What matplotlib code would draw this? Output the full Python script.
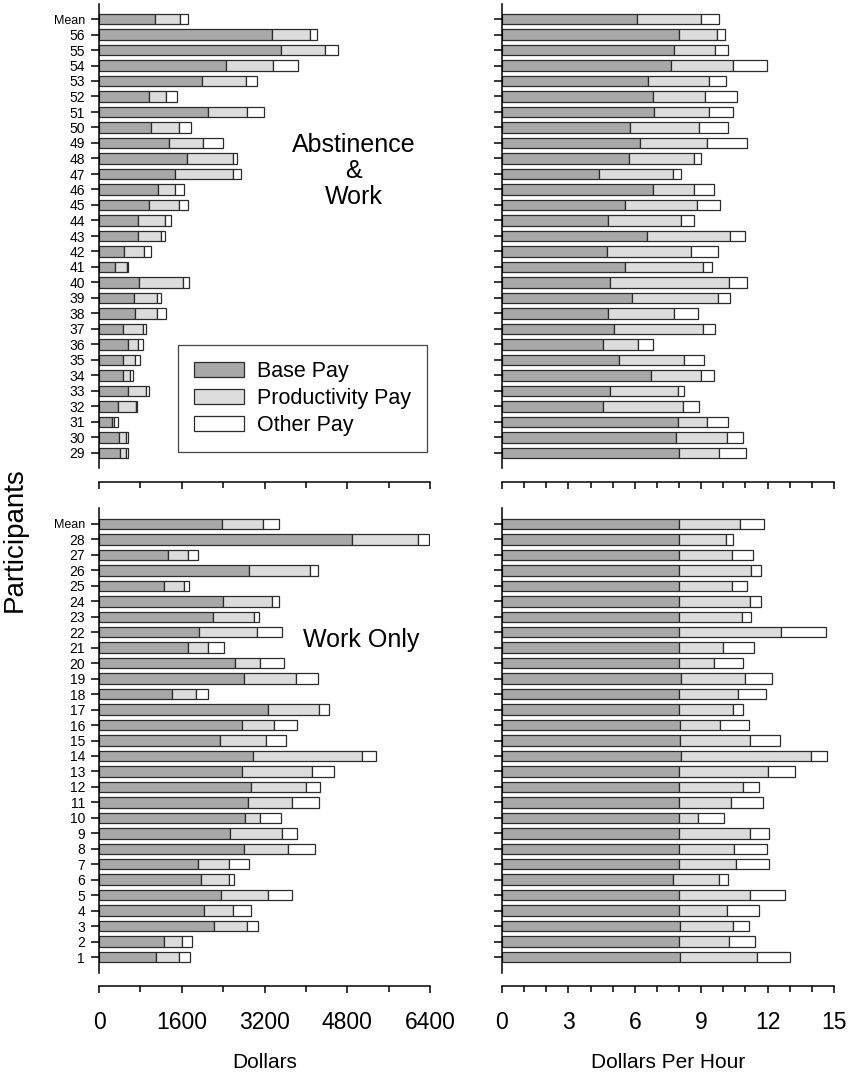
import numpy as np
import matplotlib
matplotlib.use("Agg")
import matplotlib.pyplot as plt
from matplotlib.ticker import MultipleLocator
from matplotlib.patches import Patch

plt.rcParams['font.family'] = ['Liberation Sans', 'DejaVu Sans']
narrow = ['Liberation Sans Narrow', 'Liberation Sans', 'DejaVu Sans']

# participant labels, bottom row first
abst_labels = [str(i) for i in range(29, 57)] + ['Mean']
work_labels = [str(i) for i in range(1, 29)] + ['Mean']

# Abstinence & Work: total dollars (base, productivity, other)
abst_base = [410, 385, 250, 360, 555, 455, 455, 555, 455, 690, 680, 765, 300, 475,
             750, 750, 960, 1150, 1470, 1700, 1350, 1000, 2110, 960, 1995, 2460,
             3510, 3337, 1080]
abst_prod = [110, 130, 45, 355, 355, 150, 250, 200, 395, 430, 450, 855, 240, 400,
             445, 535, 585, 320, 1115, 885, 655, 550, 745, 335, 840, 905,
             860, 739, 489]
abst_other = [50, 45, 65, 25, 50, 60, 95, 100, 60, 175, 70, 120, 15, 140,
              90, 110, 180, 170, 155, 85, 385, 225, 330, 205, 220, 485,
              250, 142, 148]

# Abstinence & Work: dollars per hour
abst_base_hr = [8.00, 7.88, 7.94, 4.58, 4.86, 6.73, 5.27, 4.58, 5.05, 4.80, 5.87,
                4.88, 5.57, 4.73, 6.54, 4.80, 5.57, 6.84, 4.40, 5.75, 6.25, 5.80,
                6.88, 6.84, 6.60, 7.65, 7.77, 8.00, 6.08]
abst_prod_hr = [1.79, 2.30, 1.34, 3.58, 3.08, 2.25, 2.95, 1.56, 4.05, 2.97, 3.87,
                5.38, 3.53, 3.79, 3.78, 3.30, 3.24, 1.85, 3.31, 2.94, 3.03, 3.09,
                2.46, 2.32, 2.74, 2.80, 1.85, 1.73, 2.90]
abst_other_hr = [1.23, 0.72, 0.92, 0.74, 0.30, 0.58, 0.92, 0.68, 0.52, 1.10, 0.56,
                 0.81, 0.39, 1.22, 0.66, 0.59, 1.04, 0.87, 0.39, 0.29, 1.77, 1.31,
                 1.08, 1.46, 0.77, 1.54, 0.58, 0.36, 0.82]

# Work Only: total dollars
work_base = [1095, 1265, 2225, 2025, 2360, 1975, 1910, 2795, 2540, 2815, 2885, 2945,
             2770, 2970, 2330, 2765, 3265, 1415, 2810, 2630, 1715, 1930, 2200, 2390,
             1260, 2895, 1340, 4900, 2380]
work_prod = [460, 345, 645, 575, 900, 535, 610, 860, 1000, 290, 845, 1060,
             1355, 2120, 900, 610, 980, 460, 995, 490, 385, 1120, 790, 950,
             375, 1180, 390, 1270, 795]
work_other = [200, 180, 200, 345, 470, 95, 375, 520, 285, 405, 525, 270,
              420, 275, 385, 445, 205, 225, 420, 460, 310, 495, 105, 140,
              110, 165, 175, 205, 310]

# Work Only: dollars per hour
work_base_hr = [8.06, 8.00, 8.06, 8.00, 8.00, 7.71, 8.00, 8.00, 8.00, 8.00, 8.00,
                8.00, 8.00, 8.10, 8.04, 8.04, 8.00, 8.00, 8.10, 8.00, 8.00, 8.00,
                8.00, 8.00, 8.00, 8.00, 8.00, 8.00, 8.00]
work_prod_hr = [3.48, 2.25, 2.38, 2.15, 3.19, 2.08, 2.57, 2.50, 3.19, 0.87, 2.36,
                2.89, 4.02, 5.86, 3.18, 1.82, 2.44, 2.68, 2.86, 1.56, 1.97, 4.59,
                2.84, 3.19, 2.39, 3.25, 2.39, 2.14, 2.77]
work_other_hr = [1.47, 1.17, 0.71, 1.44, 1.60, 0.41, 1.49, 1.49, 0.86, 1.15, 1.42,
                 0.72, 1.20, 0.72, 1.34, 1.31, 0.45, 1.23, 1.24, 1.33, 1.43, 2.05,
                 0.41, 0.51, 0.68, 0.47, 0.97, 0.30, 1.05]

pay_names = ['Base Pay', 'Productivity Pay', 'Other Pay']
pay_colors = ['#a8a8a8', '#dcdcdc', '#ffffff']
edge = '#2b2b2b'

W, H = 850, 1077
fig = plt.figure(figsize=(W / 100, H / 100), dpi=100)


def box(x0, y0, x1, y1):
    # pixel box (top-left origin) -> figure fraction rect
    return [x0 / W, 1 - y1 / H, (x1 - x0) / W, (y1 - y0) / H]


def panel(rect, base, prod, other, labels, xmax, major, minor, show_y, show_x):
    ax = fig.add_axes(rect)
    y = np.arange(len(labels))
    base = np.array(base, float)
    prod = np.array(prod, float)
    other = np.array(other, float)
    left = np.zeros(len(labels))
    for vals, col in zip([base, prod, other], pay_colors):
        ax.barh(y, vals, left=left, height=0.68, color=col,
                edgecolor=edge, linewidth=0.9)
        left += vals
    ax.set_xlim(0, xmax)
    ax.set_ylim(-1, len(labels))
    ax.spines['top'].set_visible(False)
    ax.spines['right'].set_visible(False)
    ax.spines['bottom'].set_position(('outward', 10))
    ax.spines['left'].set_linewidth(1.1)
    ax.spines['bottom'].set_linewidth(1.1)
    ax.xaxis.set_major_locator(MultipleLocator(major))
    ax.xaxis.set_minor_locator(MultipleLocator(minor))
    ax.tick_params(axis='x', which='major', length=5, width=1.1,
                   labelsize=16.5, pad=13, labelbottom=show_x)
    ax.tick_params(axis='x', which='minor', length=4, width=1.1)
    for t in ax.get_xticklabels():
        t.set_family(narrow)
    ax.set_yticks(y)
    ax.set_yticklabels(labels if show_y else [])
    ax.tick_params(axis='y', length=6, width=1.1, labelsize=10, pad=4)
    for t in ax.get_yticklabels():
        if t.get_text() == 'Mean':
            t.set_fontsize(9)
    return ax


top, top_b = 3.5, 468.5
bot, bot_b = 508.5, 972.5
lx0, lx1 = 99, 430
rx0, rx1 = 502, 834

ax_tl = panel(box(lx0, top, lx1, top_b), abst_base, abst_prod, abst_other,
              abst_labels, 6400, 1600, 800, True, False)
ax_tr = panel(box(rx0, top, rx1, top_b), abst_base_hr, abst_prod_hr, abst_other_hr,
              abst_labels, 15, 3, 1, False, False)
ax_bl = panel(box(lx0, bot, lx1, bot_b), work_base, work_prod, work_other,
              work_labels, 6400, 1600, 800, True, True)
ax_br = panel(box(rx0, bot, rx1, bot_b), work_base_hr, work_prod_hr, work_other_hr,
              work_labels, 15, 3, 1, False, True)

ax_tl.text(354 / W, 1 - 171 / H, 'Abstinence\n&\nWork', transform=fig.transFigure,
           ha='center', va='center', fontsize=18, linespacing=1.1)
ax_bl.text(361 / W, 1 - 640 / H, 'Work Only', transform=fig.transFigure,
           ha='center', va='center', fontsize=18)

handles = [Patch(facecolor=c, edgecolor=edge, linewidth=0.9) for c in pay_colors]
leg = ax_tl.legend(handles, pay_names, loc='upper left',
                   bbox_to_anchor=(178 / W, 1 - 345 / H), bbox_transform=fig.transFigure,
                   fontsize=15.5, frameon=True, fancybox=False, framealpha=1,
                   edgecolor='#444444', handlelength=2.3, handleheight=0.7,
                   handletextpad=0.6, labelspacing=0.28, borderpad=0.75,
                   borderaxespad=0)
leg.get_frame().set_linewidth(0.9)

fig.text((lx0 + lx1) / 2 / W, 1 - 1062 / H, 'Dollars', ha='center', va='center',
         fontsize=15)
fig.text((rx0 + rx1) / 2 / W, 1 - 1062 / H, 'Dollars Per Hour', ha='center',
         va='center', fontsize=15)
fig.text(15 / W, 1 - 540 / H, 'Participants', rotation=90, ha='center',
         va='center', fontsize=20)

fig.savefig('out.png', dpi=100)
